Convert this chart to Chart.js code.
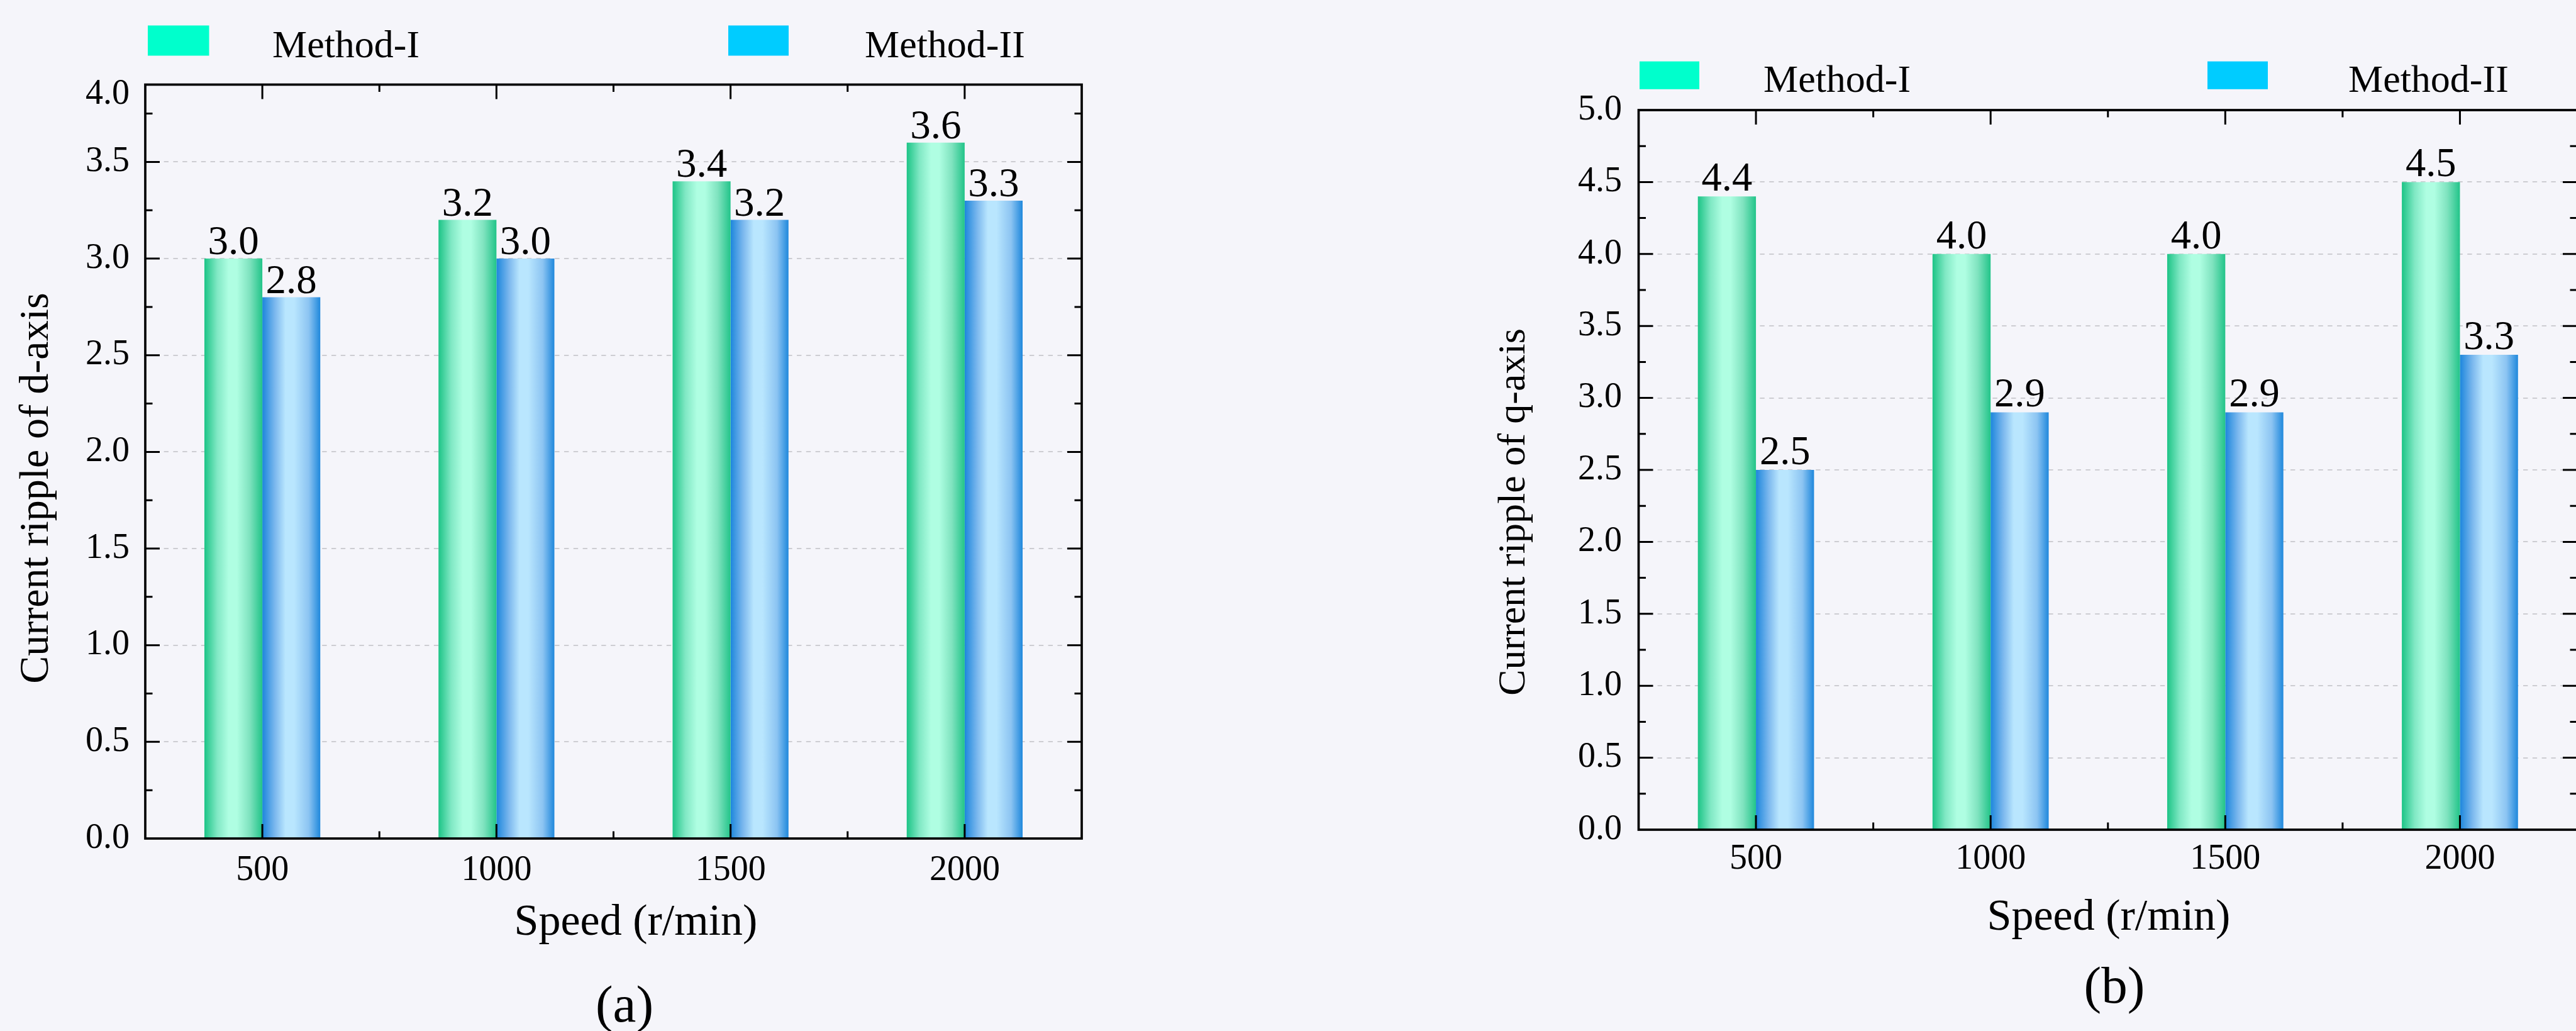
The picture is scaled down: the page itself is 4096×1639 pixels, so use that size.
<!DOCTYPE html>
<html>

<head>
    <meta charset="utf-8">
    <title>Current ripple comparison</title>
    <style>
        html,
        body {
            margin: 0;
            padding: 0;
            background-color: #f5f5fa;
            overflow: hidden;
        }

        .panel {
            position: absolute;
            top: 0;
            height: 1639px;
        }

        #panelA {
            left: 0;
            width: 2048px;
        }

        #panelB {
            left: 2048px;
            width: 2060px;
        }
    </style>
</head>

<body>
    <div class="panel" id="panelA"><canvas id="chartA"></canvas></div>
    <div class="panel" id="panelB"><canvas id="chartB"></canvas></div>

    <script src="https://cdn.jsdelivr.net/npm/chart.js"></script>

    <script>
        // data
        const speeds = ['500', '1000', '1500', '2000'];
        const seriesNames = ['Method-I', 'Method-II'];
        const dRippleMethod1 = [3.0, 3.2, 3.4, 3.6];
        const dRippleMethod2 = [2.8, 3.0, 3.2, 3.3];
        const qRippleMethod1 = [4.4, 4.0, 4.0, 4.5];
        const qRippleMethod2 = [2.5, 2.9, 2.9, 3.3];
        // panel (a) ends a little under 4.0, its "4.0" label sits just under the top edge
        const dAxisMax = 3.9;
        const dTickValues = [0, 0.5, 1.0, 1.5, 2.0, 2.5, 3.0, 3.5, 3.85];
        const dTickLabels = ['0.0', '0.5', '1.0', '1.5', '2.0', '2.5', '3.0', '3.5', '4.0'];
        const qAxisMax = 5.0;
        const qTickValues = [0, 0.5, 1.0, 1.5, 2.0, 2.5, 3.0, 3.5, 4.0, 4.5, 5.0];
        const qTickLabels = ['0.0', '0.5', '1.0', '1.5', '2.0', '2.5', '3.0', '3.5', '4.0', '4.5', '5.0'];

        const SERIF = "'Liberation Serif', 'Times New Roman', serif";
        const CAT_PCT = 0.495;
        const legendColors = ['#00ffcc', '#00ccff'];
        const barStops = [
            [[0, '#1cc486'], [0.22, '#80e8c4'], [0.42, '#affee2'], [0.56, '#affee2'], [0.78, '#7fe3bf'], [1, '#22c489']],
            [[0, '#1c86dc'], [0.22, '#7cb8ee'], [0.40, '#b9e6fe'], [0.55, '#b9e6fe'], [0.80, '#8cc4f2'], [1, '#1f88dc']]
        ];

        function barFill(stops) {
            return function (ctx) {
                const chart = ctx.chart;
                const x = chart.scales.x;
                if (!chart.chartArea || !x) return stops[0][1];
                const step = x.getPixelForValue(1) - x.getPixelForValue(0);
                const barW = step * CAT_PCT / 2;
                const center = x.getPixelForValue(ctx.dataIndex);
                const left = ctx.datasetIndex === 0 ? center - barW : center;
                if (!isFinite(left)) return stops[0][1];
                const g = chart.ctx.createLinearGradient(left, 0, left + barW, 0);
                stops.forEach(s => g.addColorStop(s[0], s[1]));
                return g;
            };
        }

        // frame, inward ticks, value labels, legend and texts
        const decor = {
            id: 'decor',
            afterDatasetsDraw(chart, args, o) {
                const ctx = chart.ctx;
                ctx.save();
                ctx.fillStyle = '#000';
                ctx.font = o.valueSize + 'px ' + SERIF;
                ctx.textAlign = 'center';
                ctx.textBaseline = 'alphabetic';
                chart.data.datasets.forEach((ds, i) => {
                    chart.getDatasetMeta(i).data.forEach((bar, j) => {
                        ctx.fillText(ds.data[j].toFixed(1), bar.x, bar.y - o.valueGap);
                    });
                });
                ctx.restore();
            },
            afterDraw(chart, args, o) {
                const ctx = chart.ctx;
                const { left, right, top, bottom } = chart.chartArea;
                const x = chart.scales.x, y = chart.scales.y;
                ctx.save();
                ctx.strokeStyle = '#000';
                ctx.lineWidth = 3.7;
                ctx.strokeRect(left, top, right - left, bottom - top);

                ctx.lineWidth = 3;
                ctx.beginPath();
                for (let v = 0.25; v < y.max - 0.01; v += 0.25) {
                    const py = y.getPixelForValue(v);
                    const len = Math.abs(v * 2 - Math.round(v * 2)) < 0.01 ? 23 : 11.5;
                    ctx.moveTo(left, py); ctx.lineTo(left + len, py);
                    ctx.moveTo(right, py); ctx.lineTo(right - len, py);
                }
                for (let i = 0; i < speeds.length; i++) {
                    const px = x.getPixelForValue(i);
                    ctx.moveTo(px, bottom); ctx.lineTo(px, bottom - 23);
                    ctx.moveTo(px, top); ctx.lineTo(px, top + 23);
                    if (i < speeds.length - 1) {
                        const mx = (px + x.getPixelForValue(i + 1)) / 2;
                        ctx.moveTo(mx, bottom); ctx.lineTo(mx, bottom - 11.5);
                        ctx.moveTo(mx, top); ctx.lineTo(mx, top + 11.5);
                    }
                }
                ctx.stroke();

                // legend
                ctx.font = '62px ' + SERIF;
                ctx.textAlign = 'left';
                ctx.textBaseline = 'alphabetic';
                chart.data.datasets.forEach((ds, i) => {
                    const it = o.legend[i];
                    ctx.fillStyle = legendColors[i];
                    ctx.fillRect(it.box, o.legendTop, it.boxW, o.legendH);
                    ctx.fillStyle = '#000';
                    ctx.fillText(ds.label, it.text, o.legendBase);
                });

                // axis titles and caption
                ctx.textAlign = 'center';
                ctx.font = '70px ' + SERIF;
                ctx.fillText(o.xTitle, o.xTitleX, o.xTitleY);
                ctx.font = '83px ' + SERIF;
                ctx.fillText(o.caption, o.captionX, o.captionY);
                ctx.save();
                ctx.translate(o.yTitleX, o.yTitleY);
                ctx.rotate(-Math.PI / 2);
                ctx.textBaseline = 'middle';
                ctx.font = o.yTitleSize + 'px ' + SERIF;
                ctx.fillText(o.yTitle, 0, 0);
                ctx.restore();
                ctx.restore();
            }
        };

        function makeChart(id, series, yMax, tickValues, tickLabels, lay, deco) {
            return new Chart(document.getElementById(id), {
                type: 'bar',
                data: {
                    labels: speeds,
                    datasets: series.map((d, i) => ({
                        label: seriesNames[i],
                        data: d,
                        backgroundColor: barFill(barStops[i]),
                        borderWidth: 0,
                        categoryPercentage: CAT_PCT,
                        barPercentage: 1
                    }))
                },
                plugins: [decor],
                options: {
                    responsive: true,
                    maintainAspectRatio: false,
                    animation: false,
                    devicePixelRatio: 1,
                    layout: { padding: lay.padding },
                    plugins: {
                        legend: { display: false },
                        tooltip: { enabled: false },
                        decor: deco
                    },
                    scales: {
                        x: {
                            grid: { display: false, drawTicks: false },
                            border: { display: false },
                            ticks: { color: '#000', font: { family: SERIF, size: 56 }, padding: lay.xPad },
                            afterFit: s => { s.height = lay.xHeight; }
                        },
                        y: {
                            min: 0,
                            max: yMax,
                            afterBuildTicks: s => { s.ticks = tickValues.map(v => ({ value: v })); },
                            grid: {
                                drawTicks: false,
                                lineWidth: 2,
                                color: c => (c.tick.value === 0 || c.tick.value > yMax - 0.3) ? 'rgba(0,0,0,0)' : '#cdcdd2'
                            },
                            border: { display: false, dash: [7.4, 7.4] },
                            ticks: {
                                color: '#000',
                                font: { family: SERIF, size: 56 },
                                padding: lay.yPad,
                                callback: (v, i) => tickLabels[i]
                            },
                            afterFit: s => { s.width = lay.yWidth; }
                        }
                    }
                }
            });
        }

        makeChart('chartA', [dRippleMethod1, dRippleMethod2], dAxisMax, dTickValues, dTickLabels,
            { padding: { left: 0, right: 328, top: 134.5, bottom: 0 }, yWidth: 231, xHeight: 306, yPad: 25, xPad: 18 },
            {
                valueSize: 65, valueGap: 7,
                legendTop: 40.5, legendH: 48, legendBase: 91,
                legend: [{ box: 235, boxW: 97.5, text: 433 }, { box: 1158, boxW: 96, text: 1375 }],
                xTitle: 'Speed (r/min)', xTitleX: 1011, xTitleY: 1486,
                yTitle: 'Current ripple of d-axis', yTitleX: 59, yTitleY: 776, yTitleSize: 66,
                caption: '(a)', captionX: 993, captionY: 1624
            });

        makeChart('chartB', [qRippleMethod1, qRippleMethod2], qAxisMax, qTickValues, qTickLabels,
            { padding: { left: 0, right: 10, top: 175, bottom: 0 }, yWidth: 557.5, xHeight: 320, yPad: 26.5, xPad: 14 },
            {
                valueSize: 64.5, valueGap: 9,
                legendTop: 97.6, legendH: 44.2, legendBase: 145.5,
                legend: [{ box: 559, boxW: 95, text: 756 }, { box: 1462, boxW: 96, text: 1686 }],
                xTitle: 'Speed (r/min)', xTitleX: 1305, xTitleY: 1478,
                yTitle: 'Current ripple of q-axis', yTitleX: 360, yTitleY: 814, yTitleSize: 62,
                caption: '(b)', captionX: 1314, captionY: 1594
            });
    </script>
</body>

</html>
